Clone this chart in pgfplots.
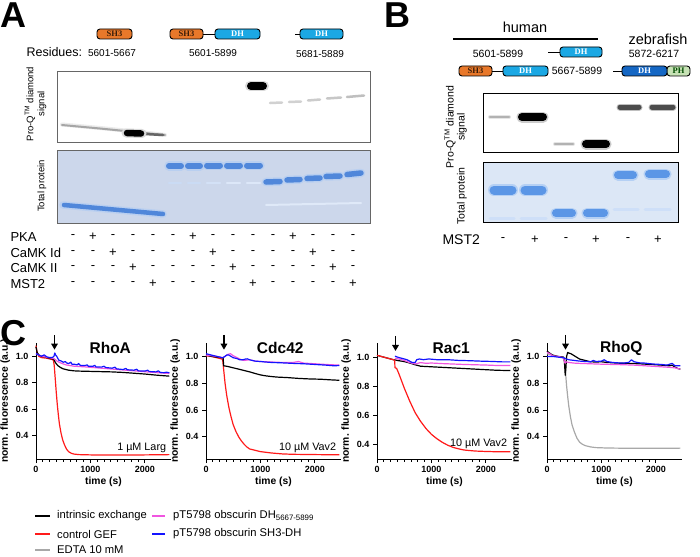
\documentclass[border=0pt]{standalone}
\usepackage{fontspec}
\setmainfont{Liberation Sans}
\newfontfamily\seriffont{Liberation Serif}
\usepackage{pgfplots}
\pgfplotsset{compat=1.18}
\usetikzlibrary{arrows.meta}
\definecolor{sh3}{HTML}{E8782A}
\definecolor{dhb}{HTML}{1BA8E4}
\definecolor{dhd}{HTML}{1567C4}
\definecolor{phg}{HTML}{C7E2B5}
\definecolor{gelA}{HTML}{CCD7EB}
\definecolor{gelB}{HTML}{DCE7F6}
\definecolor{bandA}{HTML}{5087DA}
\definecolor{bandB}{HTML}{5B96E6}
\definecolor{cmag}{HTML}{F055E0}
\definecolor{cblue}{HTML}{1414FF}
\definecolor{cred}{HTML}{FF1A1A}
\definecolor{cgray}{HTML}{A8A8A8}
\newcommand{\fs}[1]{\fontsize{#1}{#1}\selectfont}
\newcommand{\dom}[7]{\draw[line width=0.9pt, rounded corners=3pt, fill=#5] (#1,#2) rectangle (#3,#4);
  \node[font=\seriffont\bfseries\fs{8.5}, text=#6, inner sep=0] at ({(#1+#3)/2},{(#2+#4)/2}) {#7};}
\pgfplotsset{kin/.style={scale only axis, width=135pt, height=116pt,
  xmin=0, xmax=2480, ymin=0.23, ymax=1.1, clip=false,
  axis x line*=bottom, axis y line*=left,
  axis line style={line width=1pt, -},
  xtick={0,1000,2000}, minor x tick num=7,
  ytick={0.4,0.6,0.8,1.0},
  xticklabel style={/pgf/number format/.cd, 1000 sep={}},
  yticklabel style={/pgf/number format/.cd, fixed, precision=1, fixed zerofill},
  /pgf/number format/assume math mode=true,
  tick label style={font=\bfseries\fs{9}},
  tick style={black, line width=0.8pt},
  major tick length=4pt, minor tick length=2.5pt, tick align=outside,
  xlabel={time (s)}, ylabel={norm. fluorescence (a.u.)},
  label style={font=\bfseries\fs{10.3}},
  xlabel style={yshift=3pt},
  ylabel style={yshift=-1pt},
  every axis plot/.append style={line width=1.2pt, line join=round}}}
\pgfplotsset{band/.style={line width=#1, line cap=round}}
\tikzset{garrow/.style={-{Triangle[length=6pt,width=6.5pt]}, line width=1.5pt}}
\begin{document}
\begin{tikzpicture}
\useasboundingbox (0,0) rectangle (700pt,-556pt);
\begin{scope}[x=1pt,y=-1pt]
\fill[white] (57.5,71.5) rectangle (370.5,142.5);
\fill[gelA] (57.5,151) rectangle (370.5,223);
\fill[white] (483,93) rectangle (678,152);
\fill[gelB] (483,162) rectangle (678,222);
\end{scope}
\begin{axis}[at={(0pt,0pt)}, anchor=north west, width=700pt, height=556pt, scale only axis,
  xmin=0, xmax=700, ymin=0, ymax=556, y dir=reverse, hide axis, clip=false]
% A top
\addplot[band=4pt, black!8] coordinates {(62,124.5) (100,128) (140,132) (165,135)};
\addplot[band=2pt, black!35] coordinates {(62,125) (100,128.5) (140,132.5) (165,135)};
\addplot[band=2.5pt, black!60] coordinates {(145,134) (163,135)};
\addplot[band=9pt, black!15] coordinates {(126,133) (142,133.5)};
\addplot[band=6.5pt, black] coordinates {(127,133) (141,133.5)};
\addplot[band=10pt, black!15] coordinates {(250,86) (264,86)};
\addplot[band=8pt, black] coordinates {(251,86) (263,86)};
\addplot[band=2.5pt, black!18] coordinates {(270,103) (282,102.5)};
\addplot[band=2.5pt, black!18] coordinates {(289,102) (301,101.5)};
\addplot[band=2.5pt, black!20] coordinates {(308,100.5) (320,99.5)};
\addplot[band=2.5pt, black!22] coordinates {(327,98.5) (341,97.5)};
\addplot[band=2.5pt, black!25] coordinates {(347,97) (364,95.5)};
% A bottom
\addplot[band=7.5pt, bandA!40] coordinates {(63,205) (163,214)};
\addplot[band=4.5pt, bandA] coordinates {(64,205) (163,214)};
\addplot[band=9.5pt, bandA!40] coordinates {(169,166) (181,166)};
\addplot[band=9.5pt, bandA!40] coordinates {(188,166) (200,166)};
\addplot[band=9.5pt, bandA!40] coordinates {(207,165.5) (220,165.5)};
\addplot[band=9.5pt, bandA!40] coordinates {(227,165.5) (240,165.5)};
\addplot[band=9.5pt, bandA!40] coordinates {(247,165.5) (260,165.5)};
\addplot[band=6pt, bandA] coordinates {(169,166) (181,166)};
\addplot[band=6pt, bandA] coordinates {(188,166) (200,166)};
\addplot[band=6pt, bandA] coordinates {(207,165.5) (220,165.5)};
\addplot[band=6pt, bandA] coordinates {(227,165.5) (240,165.5)};
\addplot[band=6pt, bandA] coordinates {(247,165.5) (260,165.5)};
\addplot[band=2.5pt, bandA!30] coordinates {(169,183) (181,183)};
\addplot[band=2.5pt, bandA!30] coordinates {(188,183) (200,183)};
\addplot[band=2.5pt, bandA!25] coordinates {(207,183) (220,183)};
\addplot[band=2.5pt, bandA!20] coordinates {(227,183) (240,183)};
\addplot[band=2.5pt, bandA!20] coordinates {(247,183) (260,183)};
\addplot[band=8.5pt, bandA!40] coordinates {(266,182) (280,181.5)};
\addplot[band=8.5pt, bandA!40] coordinates {(287,180) (300,179.5)};
\addplot[band=8.5pt, bandA!40] coordinates {(307,178.5) (320,178)};
\addplot[band=8.5pt, bandA!40] coordinates {(326,176.5) (340,176)};
\addplot[band=8.5pt, bandA!40] coordinates {(347,174.5) (361,173)};
\addplot[band=5.5pt, bandA] coordinates {(266,182) (280,181.5)};
\addplot[band=5.5pt, bandA] coordinates {(287,180) (300,179.5)};
\addplot[band=5.5pt, bandA] coordinates {(307,178.5) (320,178)};
\addplot[band=5.5pt, bandA] coordinates {(326,176.5) (340,176)};
\addplot[band=5.5pt, bandA] coordinates {(347,174.5) (361,173)};
\addplot[band=2pt, bandA!18] coordinates {(266,205) (361,203)};
% B top
\addplot[band=4pt, black!10] coordinates {(490,117) (509,117)};
\addplot[band=2.5pt, black!30] coordinates {(490,117) (509,117)};
\addplot[band=11pt, black!20] coordinates {(522,117) (543,117)};
\addplot[band=8pt, black] coordinates {(522,117) (543,117)};
\addplot[band=4pt, black!10] coordinates {(555,144) (573,144)};
\addplot[band=2.5pt, black!30] coordinates {(555,144) (573,144)};
\addplot[band=11pt, black!20] coordinates {(586,144) (606,144)};
\addplot[band=8pt, black] coordinates {(586,144) (606,144)};
\addplot[band=7pt, black!25] coordinates {(620,107) (639,107)};
\addplot[band=7pt, black!25] coordinates {(652,107) (673,107)};
\addplot[band=5pt, black!70] coordinates {(620,107) (639,107)};
\addplot[band=5pt, black!70] coordinates {(652,107) (673,107)};
% B bottom
\addplot[band=12pt, bandB!45] coordinates {(494,190) (512,190)};
\addplot[band=12pt, bandB!45] coordinates {(525,190) (542,190)};
\addplot[band=9pt, bandB] coordinates {(494,190) (512,190)};
\addplot[band=9pt, bandB] coordinates {(525,190) (542,190)};
\addplot[band=3pt, bandB!30] coordinates {(490,218) (514,218)};
\addplot[band=3pt, bandB!30] coordinates {(521,218) (546,218)};
\addplot[band=11pt, bandB!45] coordinates {(556,213) (572,213)};
\addplot[band=11pt, bandB!45] coordinates {(587,213) (604,213)};
\addplot[band=8pt, bandB] coordinates {(556,213) (572,213)};
\addplot[band=8pt, bandB] coordinates {(587,213) (604,213)};
\addplot[band=11pt, bandB!45] coordinates {(618,175) (633,175)};
\addplot[band=11pt, bandB!45] coordinates {(649,174) (666,174)};
\addplot[band=8pt, bandB] coordinates {(618,175) (633,175)};
\addplot[band=8pt, bandB] coordinates {(649,174) (666,174)};
\addplot[band=3pt, bandB!30] coordinates {(614,209) (638,209)};
\addplot[band=3pt, bandB!30] coordinates {(645,209) (670,209)};
\end{axis}
\begin{scope}[x=1pt,y=-1pt]
\draw[black!60, line width=1pt] (57.5,71.5) rectangle (370.5,142.5);
\draw[black!60, line width=1pt] (57.5,151) rectangle (370.5,223);
\draw[black, line width=0.8pt] (483,93) rectangle (678,152);
\draw[black, line width=0.8pt] (483,162) rectangle (678,222);
\node[anchor=base west, inner sep=0, font=\bfseries\fs{36}] at (0,28) {A};
\node[anchor=base west, inner sep=0, font=\bfseries\fs{36}] at (384,28) {B};
\node[anchor=base west, inner sep=0, font=\bfseries\fs{36}] at (0,345) {C};
\dom{97}{29}{132}{39}{sh3}{black!75!sh3}{SH3}
\dom{170}{29}{203}{39}{sh3}{black!75!sh3}{SH3}
\draw[line width=0.9pt] (203,34) -- (215,34);
\dom{215}{29}{260}{39}{dhb}{white}{DH}
\draw[line width=0.9pt] (295,34) -- (300,34);
\dom{300}{29}{343}{39}{dhb}{white}{DH}
\node[anchor=west, font=\fs{12.5}] at (23,52) {Residues:};
\node[font=\fs{10}] at (112,53) {5601-5667};
\node[font=\fs{10}] at (213,53) {5601-5899};
\node[font=\fs{10}] at (320,54) {5681-5889};
\node[rotate=90, font=\fs{9.5}] at (30,104) {Pro-Q\textsuperscript{TM} diamond};
\node[rotate=90, font=\fs{9.5}] at (42,104) {signal};
\node[rotate=90, font=\fs{9.5}] at (42,186) {Total protein};
\begin{scope}[every node/.style={font=\fs{13}}]
\node[anchor=west] at (7,237) {PKA};
\node[anchor=west] at (7,252.5) {CaMK Id};
\node[anchor=west] at (7,268) {CaMK II};
\node[anchor=west] at (7,284) {MST2};
\foreach \s [count=\i from 0] in {-,+,-,-,-,-,+,-,-,-,-,+,-,-,-} \node at ({73+20*\i},237) {\s};
\foreach \s [count=\i from 0] in {-,-,+,-,-,-,-,+,-,-,-,-,+,-,-} \node at ({73+20*\i},252.5) {\s};
\foreach \s [count=\i from 0] in {-,-,-,+,-,-,-,-,+,-,-,-,-,+,-} \node at ({73+20*\i},268) {\s};
\foreach \s [count=\i from 0] in {-,-,-,-,+,-,-,-,-,+,-,-,-,-,+} \node at ({73+20*\i},284) {\s};
\end{scope}
\node[font=\fs{14.5}] at (525,27) {human};
\draw[line width=1.3pt] (453,39) -- (598,39);
\node[font=\fs{14.5}] at (658,39) {zebrafish};
\node[font=\fs{10.5}] at (498,54) {5601-5899};
\node[font=\fs{10.5}] at (577,71) {5667-5899};
\node[font=\fs{10.5}] at (654,54) {5872-6217};
\draw[line width=0.9pt] (548,52) -- (560,52);
\dom{560}{47}{602}{57}{dhb}{white}{DH}
\dom{459}{66}{492}{76}{sh3}{black!75!sh3}{SH3}
\draw[line width=0.9pt] (492,71) -- (503,71);
\dom{503}{66}{548}{76}{dhb}{white}{DH}
\draw[line width=0.9pt] (613,71) -- (622,71);
\dom{667}{66}{690}{76}{phg}{black!70!green}{PH}
\dom{622}{66}{667}{76}{dhd}{white}{DH}
\node[rotate=90, font=\fs{10.5}] at (450,127) {Pro-Q\textsuperscript{TM} diamond};
\node[rotate=90, font=\fs{10.5}] at (462,127) {signal};
\node[rotate=90, font=\fs{10.5}] at (462,196) {Total protein};
\node[anchor=west, font=\fs{14}] at (439,240) {MST2};
\foreach \s/\x in {-/503,+/535,-/566,+/596,-/628,+/658} \node[font=\fs{13}] at (\x,240) {\s};
\begin{scope}[every node/.style={anchor=west, font=\fs{11.2}, inner sep=0}]
\draw[black, line width=1.8pt] (35,516) -- (50,516); \node at (57,516) {intrinsic exchange};
\draw[cred, line width=1.8pt] (35,534) -- (50,534); \node at (57,534) {control GEF};
\draw[cgray, line width=1.8pt] (35,550) -- (50,550); \node at (57,550) {EDTA 10 mM};
\draw[cmag, line width=1.8pt] (152,516) -- (165,516); \node at (173,516) {pT5798 obscurin DH\textsubscript{5667-5899}};
\draw[cblue, line width=1.8pt] (152,534) -- (165,534); \node at (173,534) {pT5798 obscurin SH3-DH};
\end{scope}
\end{scope}
% ===== Panel C =====
\begin{axis}[kin, at={(36pt,-459pt)}, anchor=south west, ymin=0.225]
\addplot[cred] coordinates {(0,1.08)(20,1.03)(50,1.0)(100,0.99)(200,0.985)(300,0.975)(320,0.97)(335,0.93)(350,0.85)(370,0.74)(390,0.64)(410,0.56)(430,0.49)(460,0.42)(490,0.37)(520,0.335)(560,0.30)(600,0.28)(650,0.268)(700,0.262)(800,0.258)(1000,0.256)(1500,0.255)(2000,0.256)(2450,0.258)};
\addplot[black] coordinates {(0,1.07)(20,1.03)(50,1.01)(100,1.0)(200,0.99)(300,0.98)(330,0.975)(360,0.95)(400,0.93)(450,0.915)(500,0.905)(600,0.895)(700,0.89)(800,0.888)(1000,0.886)(1200,0.884)(1400,0.882)(1600,0.878)(1800,0.872)(2000,0.866)(2200,0.858)(2450,0.85)};
\addplot[cmag] coordinates {(0,1.02)(100,1.0)(300,0.985)(340,0.98)(380,0.965)(450,0.95)(550,0.935)(700,0.925)(900,0.92)(1200,0.91)(1500,0.9)(1800,0.89)(2100,0.88)(2450,0.87)};
\addplot[cblue] coordinates {(0,1.02)(50,1.01)(100,1.0)(150,1.01)(200,0.995)(250,0.99)(300,0.99)(330,1.0)(345,1.025)(360,1.01)(380,1.0)(420,0.97)(460,0.965)(500,0.955)(540,0.96)(560,0.95)(600,0.945)(640,0.955)(660,0.94)(700,0.94)(760,0.935)(780,0.945)(820,0.93)(900,0.93)(940,0.935)(960,0.925)(1050,0.925)(1080,0.932)(1100,0.92)(1200,0.918)(1250,0.925)(1280,0.915)(1400,0.91)(1450,0.918)(1480,0.905)(1600,0.9)(1650,0.908)(1680,0.898)(1800,0.895)(1850,0.902)(1880,0.89)(2000,0.888)(2050,0.895)(2080,0.885)(2200,0.882)(2250,0.89)(2280,0.878)(2350,0.876)(2400,0.88)(2450,0.875)};
\draw[garrow] (axis cs:340,1.16) -- (axis cs:340,1.05);
\node[font=\bfseries\fs{15.5}] at (rel axis cs:0.55,0.955) {RhoA};
\node[anchor=east, font=\fs{10.8}] at (rel axis cs:0.99,0.095) {1 µM Larg};
\end{axis}
\begin{axis}[kin, at={(206pt,-459pt)}, anchor=south west, ymin=0.235]
\addplot[cred] coordinates {(0,1.005)(100,1.0)(200,0.99)(300,0.98)(310,0.96)(330,0.88)(350,0.8)(380,0.71)(420,0.62)(460,0.55)(500,0.49)(550,0.44)(600,0.40)(650,0.37)(700,0.345)(750,0.325)(800,0.31)(900,0.3)(1000,0.29)(1200,0.28)(1400,0.273)(1600,0.27)(2000,0.268)(2450,0.266)};
\addplot[black] coordinates {(0,1.01)(100,1.0)(200,0.995)(300,0.99)(315,0.985)(325,0.93)(400,0.925)(500,0.915)(600,0.905)(700,0.895)(800,0.885)(900,0.873)(1000,0.862)(1100,0.855)(1200,0.85)(1300,0.846)(1500,0.842)(1700,0.836)(1900,0.832)(2100,0.83)(2300,0.825)(2450,0.822)};
\addplot[cmag] coordinates {(0,1.01)(100,1.005)(200,1.0)(300,0.99)(350,1.0)(400,1.015)(450,1.02)(500,1.005)(550,0.995)(600,0.985)(650,0.975)(700,0.97)(800,0.975)(900,0.965)(1000,0.962)(1200,0.958)(1400,0.955)(1600,0.955)(1700,0.962)(1750,0.955)(1800,0.95)(2000,0.945)(2200,0.94)(2450,0.935)};
\addplot[cblue] coordinates {(0,1.02)(50,1.015)(100,1.01)(200,1.0)(300,0.99)(330,0.995)(380,1.01)(420,1.01)(460,1.0)(500,0.99)(560,0.985)(620,0.975)(680,0.975)(720,0.98)(760,0.982)(800,0.975)(850,0.97)(900,0.965)(1000,0.962)(1100,0.958)(1200,0.955)(1400,0.952)(1600,0.948)(1800,0.945)(2000,0.94)(2200,0.935)(2350,0.93)(2450,0.932)};
\draw[garrow] (axis cs:330,1.16) -- (axis cs:330,1.05);
\node[font=\bfseries\fs{15.5}] at (rel axis cs:0.55,0.955) {Cdc42};
\node[anchor=east, font=\fs{10.8}] at (rel axis cs:0.99,0.095) {10 µM Vav2};
\end{axis}
\begin{axis}[kin, at={(377pt,-459pt)}, anchor=south west, ymin=0.3]
\addplot[black] coordinates {(0,1.015)(100,1.005)(200,0.995)(300,0.985)(400,0.978)(500,0.972)(600,0.962)(700,0.95)(800,0.94)(1000,0.936)(1200,0.932)(1400,0.928)(1600,0.924)(1800,0.92)(2000,0.916)(2200,0.912)(2450,0.91)};
\addplot[cred] coordinates {(0,1.015)(100,1.005)(200,0.995)(300,0.985)(325,0.98)(330,0.93)(360,0.925)(400,0.89)(450,0.84)(500,0.79)(550,0.745)(600,0.70)(650,0.66)(700,0.62)(750,0.59)(800,0.56)(850,0.535)(900,0.51)(1000,0.47)(1100,0.44)(1200,0.415)(1300,0.395)(1400,0.38)(1500,0.37)(1600,0.362)(1800,0.355)(2000,0.352)(2200,0.35)(2450,0.35)};
\addplot[cmag] coordinates {(330,0.995)(400,0.99)(500,0.98)(600,0.965)(700,0.955)(750,0.96)(800,0.965)(900,0.96)(1000,0.962)(1200,0.958)(1400,0.955)(1600,0.952)(1800,0.95)(2000,0.948)(2200,0.945)(2450,0.945)};
\addplot[cblue] coordinates {(330,1.01)(360,1.005)(400,1.0)(450,0.995)(500,0.99)(550,0.985)(600,0.975)(650,0.965)(700,0.965)(730,0.985)(780,0.99)(850,0.985)(950,0.99)(1100,0.985)(1300,0.985)(1500,0.98)(1700,0.978)(1900,0.975)(2100,0.973)(2300,0.97)(2450,0.97)};
\draw[garrow] (axis cs:340,1.15) -- (axis cs:340,1.045);
\node[font=\bfseries\fs{15.5}] at (rel axis cs:0.55,0.955) {Rac1};
\node[anchor=east, font=\fs{10.8}] at (rel axis cs:0.99,0.13) {10 µM Vav2};
\end{axis}
\begin{axis}[kin, at={(547pt,-459pt)}, anchor=south west, ymin=0.235]
\addplot[cgray] coordinates {(0,1.02)(100,1.01)(200,1.0)(300,0.995)(320,0.99)(340,0.88)(360,0.78)(380,0.70)(400,0.63)(430,0.55)(460,0.49)(500,0.44)(550,0.39)(600,0.36)(650,0.345)(700,0.335)(800,0.325)(900,0.32)(1100,0.317)(1500,0.315)(2000,0.315)(2450,0.316)};
\addplot[black] coordinates {(0,1.04)(30,1.03)(100,1.01)(200,1.0)(300,0.995)(320,0.96)(335,0.86)(345,0.9)(360,1.0)(380,1.03)(400,1.025)(440,1.02)(480,1.01)(520,1.0)(560,0.99)(600,0.98)(700,0.97)(800,0.96)(900,0.958)(1000,0.96)(1100,0.955)(1300,0.95)(1500,0.948)(1700,0.945)(1900,0.94)(2100,0.935)(2250,0.93)(2300,0.935)(2350,0.92)(2400,0.91)(2450,0.905)};
\addplot[cmag] coordinates {(0,1.03)(50,1.02)(100,1.005)(200,1.0)(300,0.99)(330,0.95)(350,0.96)(400,0.955)(500,0.95)(600,0.948)(800,0.945)(1000,0.942)(1200,0.94)(1400,0.938)(1600,0.935)(1800,0.93)(2000,0.925)(2200,0.92)(2350,0.915)(2450,0.905)};
\addplot[cblue] coordinates {(0,1.0)(100,1.0)(200,0.995)(300,0.99)(330,0.985)(360,0.98)(400,0.975)(500,0.97)(600,0.965)(700,0.962)(800,0.96)(850,0.97)(900,0.962)(1000,0.965)(1050,0.975)(1100,0.962)(1200,0.955)(1300,0.952)(1400,0.95)(1500,0.955)(1550,0.975)(1600,0.96)(1700,0.952)(1800,0.95)(1900,0.945)(2000,0.942)(2100,0.94)(2200,0.935)(2300,0.948)(2350,0.93)(2450,0.93)};
\draw[garrow] (axis cs:340,1.16) -- (axis cs:340,1.05);
\node[font=\bfseries\fs{15.5}] at (rel axis cs:0.55,0.955) {RhoQ};
\end{axis}
\end{tikzpicture}
\end{document}
